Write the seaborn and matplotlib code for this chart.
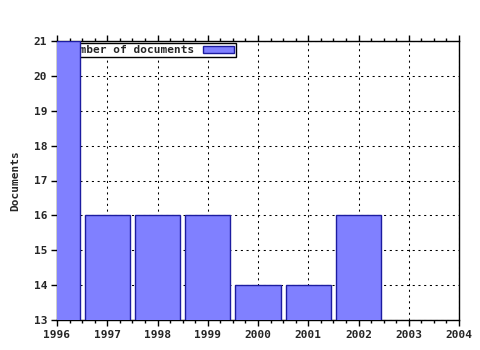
import matplotlib
matplotlib.use("Agg")
import matplotlib.pyplot as plt
from matplotlib.ticker import MultipleLocator
import seaborn as sns
import pandas as pd

years = [1996, 1997, 1998, 1999, 2000, 2001, 2002]
documents = [21, 16, 16, 16, 14, 14, 16]
x_ticks = [1996, 1997, 1998, 1999, 2000, 2001, 2002, 2003, 2004]
y_ticks = [13, 14, 15, 16, 17, 18, 19, 20, 21]
series_label = "Number of documents"
y_label = "Documents"

sns.set_style("white")
plt.rcParams['font.family'] = ['DejaVu Sans Mono', 'DejaVu Sans']
plt.rcParams['font.weight'] = 'bold'

df = pd.DataFrame({"year": years, "documents": documents})

fig = plt.figure(figsize=(4.8, 3.5), dpi=100)
ax = fig.add_axes([57/480, 30/350, (459-57)/480, (320-41)/350])

sns.barplot(data=df, x="year", y="documents", native_scale=True, width=0.9,
            color="#8080ff", saturation=1, edgecolor="#1c1ca0", linewidth=1.0,
            label=series_label, ax=ax, zorder=3)

ax.set_xlim(1996, 2004)
ax.set_ylim(13, 21)
ax.set_xticks(x_ticks)
ax.set_xticklabels([str(t) for t in x_ticks])
ax.set_yticks(y_ticks)
ax.xaxis.set_minor_locator(MultipleLocator(0.25))

ax.grid(True, which='major', color='black', linestyle=(0, (2, 3.5)), linewidth=0.75, zorder=0)
ax.set_axisbelow(True)

for s in ax.spines.values():
    s.set_visible(True)
    s.set_color('black')
    s.set_linewidth(1.0)

ax.tick_params(axis='x', which='major', bottom=True, top=True, direction='out',
               length=4, width=1, color='black', labelsize=8, pad=3)
ax.tick_params(axis='x', which='minor', bottom=True, top=True, direction='out',
               length=2, width=1, color='black')
ax.tick_params(axis='y', which='major', left=True, right=False, direction='out',
               length=4, width=1, color='black', labelsize=8, pad=3)
for lbl in ax.get_xticklabels() + ax.get_yticklabels():
    lbl.set_fontweight('bold')

ax.set_xlabel("")
ax.set_ylabel(y_label, fontsize=8, fontweight='bold', labelpad=10)

leg = ax.legend(loc='upper left', bbox_to_anchor=(0.017, 0.993), markerfirst=False,
                frameon=True, fancybox=False, edgecolor='black', framealpha=1,
                prop={'size': 8, 'weight': 'bold'}, borderpad=0.2,
                handlelength=2.8, handleheight=0.55, handletextpad=0.75,
                borderaxespad=0.0)
leg.get_frame().set_linewidth(1.0)
leg.set_zorder(1)

fig.savefig("out.png", dpi=100)
